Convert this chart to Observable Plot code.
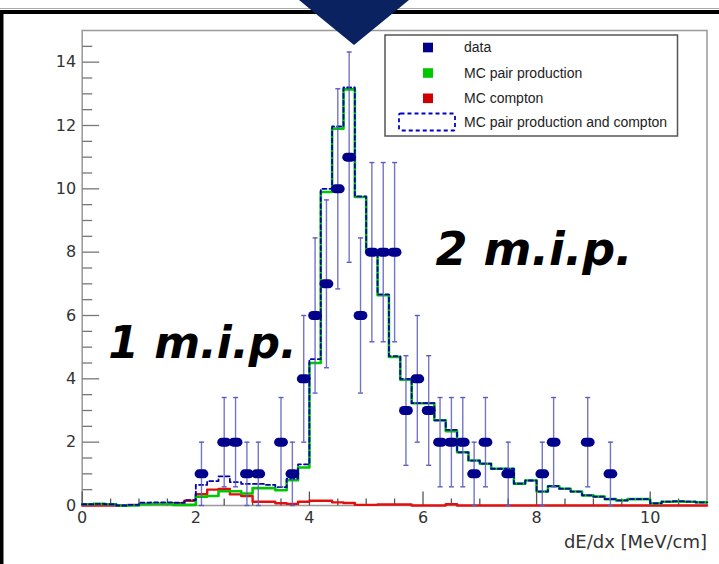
<!DOCTYPE html>
<html><head><meta charset="utf-8">
<script src="https://cdn.jsdelivr.net/npm/d3@7"></script>
<script src="https://cdn.jsdelivr.net/npm/@observablehq/plot@0.6"></script>
<style>
body{margin:0;background:#fff;}
#wrap{position:relative;width:719px;height:564px;overflow:hidden;background:#fff;}
#wrap > svg{position:absolute;left:0;top:0;}
</style></head><body><div id="wrap"></div>
<script>
// ---- data ----
const binWidth = 0.2;
const xMax = 11;
const pairProduction = [0.04,0.05,0.04,0,0,0.04,0.05,0.05,0.02,0.02,
  0.28,0.3,0.45,0.45,0.38,0.55,0.55,0.48,0.8,1.2,
  4.5,9.9,11.9,13.14,9.74,8.0,6.64,4.69,3.97,3.23,
  3.23,2.69,2.35,1.68,1.42,1.32,1.16,1.16,0.69,0.79,
  0.44,0.61,0.53,0.44,0.32,0.28,0.2,0.16,0.2,0.2,
  0.07,0.12,0.13,0.12,0.1];
const compton = [0,0,0,0,0.02,0.05,0.05,0.05,0.07,0.15,
  0.36,0.5,0.52,0.35,0.3,0.12,0.12,0.07,0.05,0.12,
  0.15,0.15,0.1,0.08,0.02,0.02,0.03,0.03,0.03,0,
  0,0,0.04,0,0,0,0,0,0,0,
  0,0,0,0,0,0,0,0,0,0,
  0,0,0,0,0];
const pairPlusCompton = [0.04,0.05,0.04,0,0.02,0.09,0.1,0.1,0.09,0.17,
  0.65,0.77,0.92,0.74,0.68,0.68,0.65,0.58,0.85,1.3,
  4.62,10.0,11.97,13.2,9.76,8.02,6.67,4.72,4.0,3.23,
  3.23,2.69,2.39,1.68,1.42,1.32,1.16,1.16,0.69,0.79,
  0.44,0.61,0.53,0.44,0.32,0.28,0.2,0.16,0.2,0.2,
  0.07,0.12,0.13,0.12,0.1];
const dataX = [2.1,2.5,2.7,2.9,3.1,3.5,3.7,3.9,4.1,4.3,4.5,4.7,4.9,5.1,5.3,5.5,5.7,5.9,6.1,6.3,6.5,6.7,6.9,7.1,7.5,8.1,8.3,8.9,9.3];
const dataCounts = [1,2,2,1,1,2,1,4,6,7,10,11,6,8,8,8,3,4,3,2,2,2,1,2,1,1,2,2,1];
const dataErrors = [1,1.41,1.41,1,1,1.41,1,2,2.45,2.65,3.16,3.32,2.45,2.83,2.83,2.83,1.73,2,1.73,1.41,1.41,1.41,1,1.41,1,1,1.41,1.41,1];
const yMajorTicks = [0,2,4,6,8,10,12,14];
const yMinorTicks = [0.5,1,1.5,2.5,3,3.5,4.5,5,5.5,6.5,7,7.5,8.5,9,9.5,10.5,11,11.5,12.5,13,13.5,14.5];
const xMajorTicks = [0,2,4,6,8,10];
const xMinorTicks = [0.5,1,1.5,2.5,3,3.5,4.5,5,5.5,6.5,7,7.5,8.5,9,9.5,10.5];
const xTitle = "dE/dx [MeV/cm]";
const legendLabels = ["data","MC pair production","MC compton","MC pair production and compton"];
const annotations = ["1 m.i.p.", "2 m.i.p."];

// ---- build tables ----
const steps = vals => vals.map((v,i)=>({x: +(i*binWidth).toFixed(2), y: v})).concat([{x: xMax, y: vals[vals.length-1]}]);
const points = dataX.map((x,i)=>({x, n: dataCounts[i], e: dataErrors[i]}));

// custom symbols
const hTick = len => ({draw(ctx){ctx.moveTo(0,0); ctx.lineTo(len,0);}});
const vTick = len => ({draw(ctx){ctx.moveTo(0,0); ctx.lineTo(0,-len);}});
const capSym = {draw(ctx){ctx.moveTo(-2.5,0); ctx.lineTo(2.5,0);}};
const capsule = {draw(ctx){
  const w=2.4, r=4.5;
  ctx.moveTo(-w,-r); ctx.lineTo(w,-r);
  ctx.arc(w,0,r,-Math.PI/2,Math.PI/2);
  ctx.lineTo(-w,r);
  ctx.arc(-w,0,r,Math.PI/2,3*Math.PI/2);
  ctx.closePath();
}};

const errColor = "#5c5cc0";
const axisFont = "DejaVu Sans, Verdana, sans-serif";
const chart = Plot.plot({
  width: 719, height: 564,
  marginLeft: 81.7, marginRight: 12.5, marginTop: 30, marginBottom: 59,
  style: {fontFamily: axisFont, background: "transparent"},
  x: {domain: [0, xMax]},
  y: {domain: [0, 15]},
  marks: [
    Plot.frame({stroke: "#999", strokeWidth: 1.5}),
    // ticks (inward, ROOT style)
    Plot.dot(yMajorTicks, {y: d=>d, frameAnchor: "left", symbol: hTick(17), stroke: "#777", fill: "none", strokeWidth: 1.3}),
    Plot.dot(yMinorTicks, {y: d=>d, frameAnchor: "left", symbol: hTick(10), stroke: "#777", fill: "none", strokeWidth: 1.3}),
    Plot.dot(xMajorTicks, {x: d=>d, frameAnchor: "bottom", symbol: vTick(14), stroke: "#555", fill: "none", strokeWidth: 1.3}),
    Plot.dot(xMinorTicks, {x: d=>d, frameAnchor: "bottom", symbol: vTick(7), stroke: "#555", fill: "none", strokeWidth: 1.3}),
    Plot.axisY(yMajorTicks, {tickSize: 0, tickPadding: 6, label: null, fontSize: 16, color: "#333"}),
    Plot.axisX(xMajorTicks, {tickSize: 0, tickPadding: 6, label: null, fontSize: 16, color: "#333"}),
    Plot.text([xTitle], {frameAnchor: "bottom-right", textAnchor: "end", dy: 42, fontSize: 18, fill: "#333"}),
    // histograms
    Plot.line(steps(compton), {x: "x", y: "y", curve: "step-after", stroke: "#e01010", strokeWidth: 2.4}),
    Plot.line(steps(pairProduction), {x: "x", y: "y", curve: "step-after", stroke: "#00c800", strokeWidth: 2.6}),
    Plot.line(steps(pairPlusCompton), {x: "x", y: "y", curve: "step-after", stroke: "#0000b4", strokeWidth: 1.8, strokeDasharray: "4,3"}),
    // data with error bars
    Plot.ruleX(points, {x: "x", y1: d=>d.n-d.e, y2: d=>d.n+d.e, stroke: errColor, strokeWidth: 1.4, strokeOpacity: 0.85}),
    Plot.dot(points, {x: "x", y: d=>d.n+d.e, symbol: capSym, stroke: errColor, fill: "none", strokeWidth: 1.4}),
    Plot.dot(points, {x: "x", y: d=>d.n-d.e, symbol: capSym, stroke: errColor, fill: "none", strokeWidth: 1.4}),
    Plot.dot(points, {x: "x", y: "n", symbol: capsule, fill: "#00008b", stroke: "none"}),
    // annotations
    Plot.text([annotations[0]], {x: 0.46, y: 4.67, text: d=>d, textAnchor: "start", lineAnchor: "bottom", fontSize: 44, fontWeight: "bold", fontStyle: "italic", fontFamily: "DejaVu Sans", fill: "#000"}),
    Plot.text([annotations[1]], {x: 6.22, y: 7.58, text: d=>d, textAnchor: "start", lineAnchor: "bottom", fontSize: 46, fontWeight: "bold", fontStyle: "italic", fontFamily: "DejaVu Sans", fill: "#000"})
  ]
});
const wrap = document.getElementById("wrap");
wrap.appendChild(chart);

// ---- legend + slide decoration overlay ----
const ns = "http://www.w3.org/2000/svg";
const ov = d3.select(wrap).append("svg").attr("xmlns", ns).attr("width", 719).attr("height", 564).style("pointer-events","none");
// slide decoration
ov.append("line").attr("x1",0).attr("x2",719).attr("y1",8.5).attr("y2",8.5).attr("stroke","#aaa").attr("stroke-width",1);
ov.append("rect").attr("x",0).attr("y",10).attr("width",719).attr("height",4).attr("fill","#000");
ov.append("rect").attr("x",0).attr("y",10).attr("width",3.5).attr("height",554).attr("fill","#000");
ov.append("path").attr("d","M299,0L409,0L354,45Z").attr("fill","#0a2360");
// legend
const lg = ov.append("g").attr("font-family","Liberation Sans, Arial, sans-serif").attr("font-size",14).attr("fill","#222");
lg.append("rect").attr("x",385).attr("y",35).attr("width",292.5).attr("height",101).attr("fill","#fff").attr("stroke","#555").attr("stroke-width",1.5);
const rowY = [47.5, 73, 98.3, 122];
const swatch = ["#00008b", "#00c800", "#d00000"];
legendLabels.forEach((lab, i) => {
  if (i < 3) {
    lg.append("rect").attr("x",423).attr("y",rowY[i]-4.8).attr("width",10).attr("height",9.6).attr("fill",swatch[i]);
  } else {
    lg.append("rect").attr("x",399).attr("y",rowY[i]-8.5).attr("width",56).attr("height",17).attr("fill","none")
      .attr("stroke","#0000c8").attr("stroke-width",1.8).attr("stroke-dasharray","4,3").attr("rx",1.5);
  }
  lg.append("text").attr("x",464).attr("y",rowY[i]).attr("dy","0.35em").text(lab);
});
</script></body></html>
